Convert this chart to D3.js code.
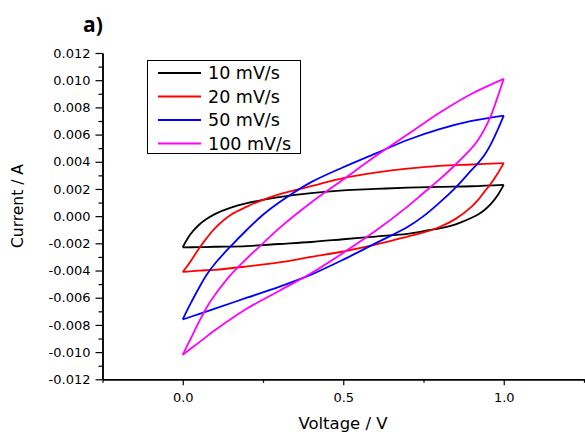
<!DOCTYPE html>
<html>
<head>
<meta charset="utf-8">
<script src="https://d3js.org/d3.v7.min.js"></script>
<style>
  body { margin: 0; background: #fff; }
  text { font-family: "DejaVu Sans", sans-serif; fill: #000; }
</style>
</head>
<body>
<svg id="chart" width="585" height="437"></svg>
<script>
// scan rates and their colours
var scanRates = ["10 mV/s", "20 mV/s", "50 mV/s", "100 mV/s"]
var lineColours = ["#000000", "#ff0000", "#0000ff", "#ff00ff"]

// voltage steps of the anodic (0 -> 1 V) and cathodic (1 -> 0 V) sweeps
var vForward = [0, 0.01, 0.025, 0.05, 0.075, 0.1, 0.15, 0.2, 0.25, 0.3, 0.4, 0.5, 0.6, 0.7, 0.8, 0.9, 1.0]
var vReverse = [1.0, 0.98, 0.96, 0.94, 0.92, 0.9, 0.85, 0.8, 0.75, 0.7, 0.6, 0.5, 0.4, 0.3, 0.2, 0.1, 0.05, 0]

// current (A)
var fwd10 = [-0.0023, -0.00185, -0.0013, -0.00065, -0.0002, 0.00015, 0.00062, 0.00095, 0.0012, 0.0014, 0.0017, 0.0019, 0.002, 0.0021, 0.00216, 0.0022, 0.0023]
var rev10 = [0.0023, 0.0015, 0.0009, 0.00045, 0.00012, -0.00012, -0.0006, -0.0009, -0.0011, -0.0013, -0.0015, -0.0017, -0.0019, -0.00205, -0.0022, -0.00225, -0.00228, -0.0023]

var fwd20 = [-0.0041, -0.0038, -0.0033, -0.0024, -0.0016, -0.0009, 0.0001, 0.0007, 0.0012, 0.0016, 0.0022, 0.0028, 0.0032, 0.0035, 0.0037, 0.0038, 0.0039]
var rev20 = [0.0039, 0.0031, 0.0024, 0.0018, 0.0012, 0.0007, -0.0002, -0.0008, -0.0012, -0.0015, -0.0021, -0.0026, -0.003, -0.0034, -0.0037, -0.00395, -0.004, -0.0041]

var fwd50 = [-0.0076, -0.0071, -0.0064, -0.0053, -0.0043, -0.0035, -0.0022, -0.001, 0.0001, 0.001, 0.0025, 0.0036, 0.0046, 0.0056, 0.0064, 0.007, 0.0074]
var rev50 = [0.0074, 0.0063, 0.0053, 0.0045, 0.0039, 0.0034, 0.0021, 0.001, 0.0, -0.0008, -0.002, -0.0032, -0.0043, -0.0052, -0.006, -0.0068, -0.0072, -0.0076]

var fwd100 = [-0.0102, -0.0097, -0.009, -0.0078, -0.0067, -0.0058, -0.0043, -0.0031, -0.002, -0.0009, 0.001, 0.0027, 0.0044, 0.006, 0.0076, 0.009, 0.0101]
var rev100 = [0.0101, 0.0087, 0.0074, 0.0064, 0.0056, 0.005, 0.0038, 0.0027, 0.0017, 0.0007, -0.0011, -0.0027, -0.0042, -0.0055, -0.0068, -0.0084, -0.0093, -0.0102]

var forwardCurrents = [fwd10, fwd20, fwd50, fwd100]
var reverseCurrents = [rev10, rev20, rev50, rev100]

// axis ticks
var xMajor = [0, 0.5, 1.0]
var xMinor = [-0.25, 0.25, 0.75, 1.25]
var yMajor = d3.range(-12, 13, 2).map(function (d) { return d / 1000 })
var yMinor = d3.range(-11, 12, 2).map(function (d) { return d / 1000 })

var svg = d3.select("#chart")

var x = d3.scaleLinear().domain([-0.25, 1.25]).range([102.5, 584])
var y = d3.scaleLinear().domain([-0.012, 0.012]).range([379.3, 53])

function fmt(p) {
  var f = d3.format(p)
  return function (d) { return f(d).replace("\u2212", "-") }
}

// minor ticks first so the main axes sit on top
svg.append("g")
  .attr("transform", "translate(0," + y(-0.012) + ")")
  .call(d3.axisBottom(x).tickValues(xMinor).tickSize(3.5).tickSizeOuter(0).tickFormat(""))
svg.append("g")
  .attr("transform", "translate(" + x(-0.25) + ",0)")
  .call(d3.axisLeft(y).tickValues(yMinor).tickSize(4).tickSizeOuter(0).tickFormat(""))

var xAxis = svg.append("g")
  .attr("transform", "translate(0," + y(-0.012) + ")")
  .call(d3.axisBottom(x).tickValues(xMajor).tickSize(6).tickPadding(7).tickSizeOuter(0).tickFormat(fmt(".1f")))

var yAxis = svg.append("g")
  .attr("transform", "translate(" + x(-0.25) + ",0)")
  .call(d3.axisLeft(y).tickValues(yMajor).tickSize(7).tickPadding(5).tickSizeOuter(0).tickFormat(fmt(".3f")))

svg.selectAll(".domain").attr("stroke", "#000").attr("stroke-width", 1.5)
svg.selectAll(".tick line").attr("stroke", "#000").attr("stroke-width", 1.2)
svg.selectAll(".tick text").style("font-family", "DejaVu Sans").style("font-size", "13px").attr("fill", "#000")

// axis titles
svg.append("text")
  .attr("x", 343).attr("y", 429)
  .attr("text-anchor", "middle")
  .style("font-size", "16.5px")
  .text("Voltage / V")

svg.append("text")
  .attr("transform", "translate(23,206) rotate(-90)")
  .attr("text-anchor", "middle")
  .style("font-size", "15.5px")
  .text("Current / A")

svg.append("text")
  .attr("x", 83).attr("y", 32)
  .style("font-family", "Open Sans")
  .style("font-weight", "bold")
  .style("font-size", "21px")
  .text("a)")

// the CV loops
var line = d3.line()
  .x(function (d) { return x(d[0]) })
  .y(function (d) { return y(d[1]) })
  .curve(d3.curveCatmullRom.alpha(0.5))

scanRates.forEach(function (rate, i) {
  var fwd = vForward.map(function (v, j) { return [v, forwardCurrents[i][j]] })
  var rev = vReverse.map(function (v, j) { return [v, reverseCurrents[i][j]] })
  ;[fwd, rev].forEach(function (branch) {
    svg.append("path")
      .datum(branch)
      .attr("d", line)
      .attr("fill", "none")
      .attr("stroke", lineColours[i])
      .attr("stroke-width", 1.8)
  })
})

// legend
var legend = svg.append("g")
legend.append("rect")
  .attr("x", 147.5).attr("y", 60.5)
  .attr("width", 153).attr("height", 93)
  .attr("fill", "#fff").attr("stroke", "#000").attr("stroke-width", 1)

scanRates.forEach(function (rate, i) {
  var ly = 73 + i * 23.5
  legend.append("line")
    .attr("x1", 158).attr("x2", 201)
    .attr("y1", ly).attr("y2", ly)
    .attr("stroke", lineColours[i]).attr("stroke-width", 1.8)
  legend.append("text")
    .attr("x", 208).attr("y", ly + 6.3)
    .style("font-size", "17.5px")
    .text(rate)
})
</script>
</body>
</html>
